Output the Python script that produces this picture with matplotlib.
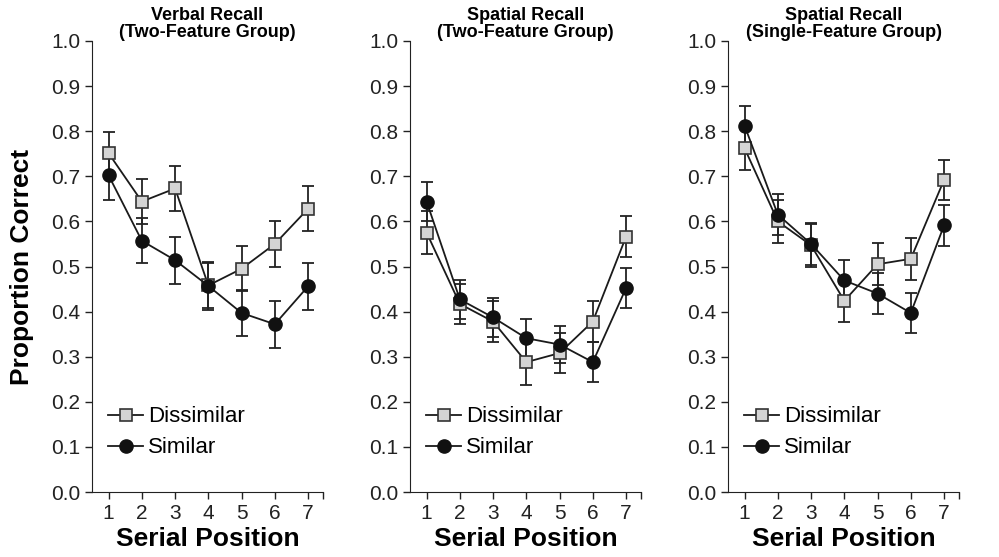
import matplotlib
matplotlib.use('Agg')
import matplotlib.pyplot as plt
from matplotlib.ticker import FixedLocator

plt.rcParams['font.family'] = ['Liberation Sans', 'DejaVu Sans']

posiciones = [1, 2, 3, 4, 5, 6, 7]
yticks = [0.0, 0.1, 0.2, 0.3, 0.4, 0.5, 0.6, 0.7, 0.8, 0.9, 1.0]
titulos = ['Verbal Recall\n(Two-Feature Group)',
           'Spatial Recall\n(Two-Feature Group)',
           'Spatial Recall\n(Single-Feature Group)']

# Valores (Dissimilar / Similar) y semiamplitud de las barras de error
dissimilar = [
    [0.751, 0.644, 0.673, 0.458, 0.495, 0.550, 0.628],
    [0.575, 0.417, 0.378, 0.288, 0.308, 0.378, 0.566],
    [0.762, 0.600, 0.547, 0.424, 0.505, 0.517, 0.692],
]
dissimilar_err = [
    [0.048, 0.050, 0.050, 0.050, 0.050, 0.050, 0.050],
    [0.047, 0.045, 0.045, 0.050, 0.045, 0.045, 0.045],
    [0.047, 0.047, 0.047, 0.048, 0.047, 0.047, 0.045],
]
similar = [
    [0.702, 0.557, 0.514, 0.457, 0.397, 0.372, 0.456],
    [0.644, 0.427, 0.387, 0.341, 0.327, 0.288, 0.452],
    [0.812, 0.615, 0.550, 0.469, 0.440, 0.397, 0.591],
]
similar_err = [
    [0.055, 0.050, 0.052, 0.053, 0.050, 0.052, 0.052],
    [0.043, 0.043, 0.044, 0.043, 0.042, 0.045, 0.045],
    [0.044, 0.045, 0.047, 0.045, 0.046, 0.045, 0.046],
]

fig = plt.figure(figsize=(9.99, 5.57), dpi=100)
izquierdas = [92, 410, 728]

for i in range(3):
    ax = fig.add_axes([izquierdas[i] / 999, 1 - 492 / 557, 231 / 999, 451 / 557])

    # Barras de error
    ax.errorbar(posiciones, dissimilar[i], yerr=dissimilar_err[i], fmt='none',
                ecolor='#222222', elinewidth=1.3, capsize=4, capthick=1.3, zorder=2)
    ax.errorbar(posiciones, similar[i], yerr=similar_err[i], fmt='none',
                ecolor='#222222', elinewidth=1.3, capsize=4, capthick=1.3, zorder=2)

    # Lineas con marcadores
    ax.plot(posiciones, dissimilar[i], '-s', color='#1a1a1a', lw=1.3,
            markersize=8.5, markerfacecolor='#d4d4d4', markeredgecolor='#333333',
            markeredgewidth=1.2, label='Dissimilar', zorder=3)
    ax.plot(posiciones, similar[i], '-o', color='#1a1a1a', lw=1.3,
            markersize=9.5, markerfacecolor='#111111', markeredgecolor='#111111',
            label='Similar', zorder=4)

    ax.set_xlim(0.5, 7.45)
    ax.set_ylim(0, 1.0)
    ax.xaxis.set_major_locator(FixedLocator(posiciones))
    ax.xaxis.set_minor_locator(FixedLocator([7.45]))
    ax.yaxis.set_major_locator(FixedLocator(yticks))
    ax.set_yticklabels(['%.1f' % v for v in yticks])
    ax.spines['top'].set_visible(False)
    ax.spines['right'].set_visible(False)
    ax.spines['left'].set_color('#222222')
    ax.spines['bottom'].set_color('#222222')
    ax.tick_params(direction='out', length=5, width=1, labelsize=15, colors='#222222')
    ax.tick_params(axis='x', which='minor', direction='out', length=5, width=1,
                   colors='#222222')

    ax.set_xlabel('Serial Position', fontsize=19, fontweight='bold', labelpad=3)
    if i == 0:
        ax.set_ylabel('Proportion Correct', fontsize=19, fontweight='bold', labelpad=12)
    ax.set_title(titulos[i], fontsize=13, fontweight='bold', pad=3, linespacing=1.0)

    ax.legend(loc='lower left', bbox_to_anchor=(0.03, 0.055), frameon=False,
              fontsize=16, handlelength=1.6, handletextpad=0.2, labelspacing=0.45,
              borderaxespad=0)

fig.savefig('out.png', dpi=100)
